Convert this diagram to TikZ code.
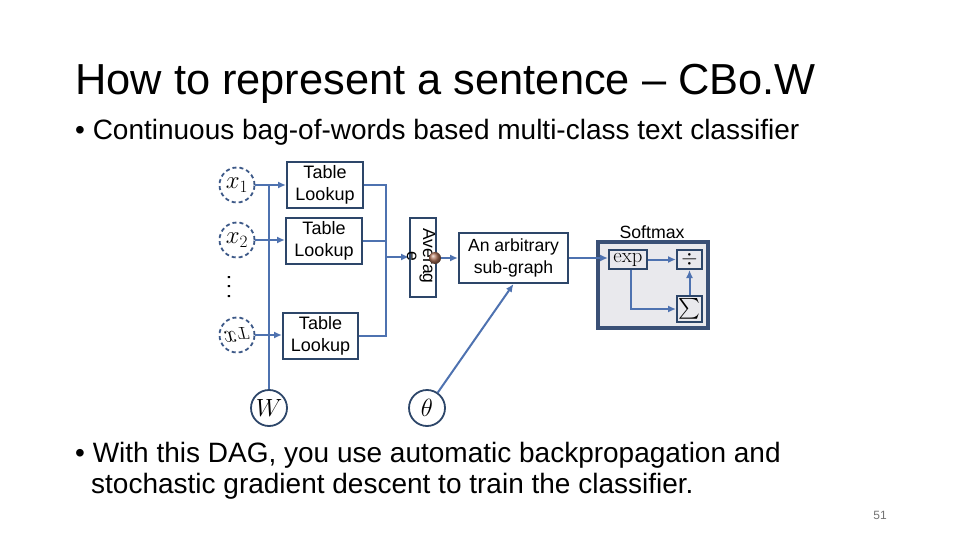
\documentclass[tikz,border=0pt]{standalone}
\usepackage[no-math]{fontspec}
\usepackage{exscale}
\setmainfont{Liberation Sans}
\usetikzlibrary{arrows.meta,calc}
\definecolor{conn}{RGB}{78,114,176}
\definecolor{boxc}{RGB}{45,70,105}
\definecolor{circc}{RGB}{60,88,135}
\definecolor{smbord}{RGB}{58,80,118}
\definecolor{smfill}{RGB}{233,233,237}
\definecolor{dotc}{RGB}{175,115,90}
\tikzset{
  conline/.style={draw=conn,line width=2pt},
  arr/.style={conline,-{Latex[length=8pt,width=7pt]}},
  tlbox/.style={draw=boxc,line width=2pt,fill=white,minimum width=76pt,minimum height=46pt,inner sep=0pt,align=center,font=\fontsize{18}{22}\selectfont},
  dcirc/.style={circle,draw=circc,dashed,dash pattern=on 4pt off 3pt,line width=1.8pt,minimum size=35pt,inner sep=0pt,font=\fontsize{25}{26}\selectfont},
  scirc/.style={circle,draw=boxc,line width=1.8pt,minimum size=36pt,inner sep=0pt,font=\fontsize{25}{26}\selectfont},
  smbox/.style={draw=boxc,line width=2pt,fill=smfill,inner sep=0pt,font=\fontsize{21}{22}\selectfont},
  titletext/.style={anchor=base west,inner sep=0pt,font=\fontsize{43.4}{50}\selectfont,text=black},
  bullettext/.style={anchor=base west,inner sep=0pt,font=\fontsize{28}{32}\selectfont,text=black},
}
\begin{document}
\begin{tikzpicture}[x=1pt,y=-1pt]
\useasboundingbox (0,0) rectangle (960,540);
% texts
\node[titletext] (title) at (75,95) {How to represent a sentence – CBo.W};
\node[bullettext] (b1) at (75,140) {• Continuous bag-of-words based multi-class text classifier};
\node[bullettext] (b2a) at (75,462) {• With this DAG, you use automatic backpropagation and};
\node[bullettext] (b2b) at (91,493) {stochastic gradient descent to train the classifier.};
\node[anchor=base,inner sep=0pt,font=\fontsize{12}{14}\selectfont,text=black!55] (pg) at (880,519) {51};
% input circles
\node[dcirc] (x1) at (237,185) {$x_1$};
\node[dcirc] (x2) at (237,240) {$x_2$};
\node[dcirc] (xT) at (237,335) {\scalebox{1}[-1]{$x_T$}};
\node[rotate=-90,inner sep=0pt,font=\fontsize{22}{22}\selectfont] (dots) at (229,287) {.\kern3pt.\kern3pt.};
\node[scirc] (W) at (269,408) {$W$};
\node[scirc] (th) at (427,408) {$\theta$};
% table lookups
\node[tlbox] (tl1) at (325,185) {Table\\Lookup};
\node[tlbox] (tl2) at (324,240.5) {Table\\Lookup};
\node[tlbox,minimum width=75pt] (tl3) at (320.5,336) {Table\\Lookup};
% W line
\draw[conline] (W.north) -- (W.north |- x1.east);
\draw[arr] (x1.east) -- (x1.east -| tl1.west);
\draw[arr] (x2.east) -- (x2.east -| tl2.west);
\draw[arr] (xT.east) -- (xT.east -| tl3.west);
% average
\node[draw=boxc,line width=2pt,minimum width=26pt,minimum height=79pt,inner sep=0pt] (avg) at (423,257.5) {};
\coordinate (jx) at (386,257);
\draw[conline] (tl1.east) -- (tl1.east -| jx) -- (tl3.east -| jx) -- (tl3.east);
\draw[conline] (tl2.east) -- (tl2.east -| jx);
\draw[arr] (jx) -- (jx -| avg.west);
\node[rotate=-90,inner sep=0pt,align=center,font=\fontsize{17.5}{16}\selectfont] (avgt) at (421,256) {Averag\\e};
\shade[ball color=dotc] (435,258) circle (6pt);
\node[circle,inner sep=0pt,minimum size=12pt] (dot) at (435,258) {};
% arbitrary
\node[tlbox,minimum width=109pt,minimum height=50pt,font=\fontsize{17.6}{22}\selectfont] (arb) at (513.5,258) {An arbitrary\\sub-graph};
\draw[arr] (dot.east) -- (dot.east -| arb.west);
\draw[arr] (th) -- (arb.south);
% softmax
\node[draw=smbord,line width=3.5pt,fill=smfill,minimum width=110pt,minimum height=86pt,inner sep=0pt] (sm) at (653,285) {};
\node[inner sep=0pt,font=\fontsize{17.7}{18}\selectfont] (smt) at (652,232) {Softmax};
\node[smbox,minimum width=38pt,minimum height=19pt,text height=9pt,text depth=4pt] (exp) at (628,259.5) {$\exp$};
\node[smbox,minimum width=25pt,minimum height=19pt] (div) at (689.5,259.5) {$\div$};
\node[smbox,minimum width=25pt,minimum height=26pt,font=\fontsize{22}{22}\selectfont] (sum) at (689.5,309) {$\sum$};
\draw[arr] (arb.east) -- (arb.east -| exp.west);
\draw[arr] (exp.east) -- (exp.east -| div.west);
\draw[arr] ([xshift=3pt]exp.south) |- (sum.west);
\draw[arr] (sum.north) -- (div.south);
\end{tikzpicture}
\end{document}
